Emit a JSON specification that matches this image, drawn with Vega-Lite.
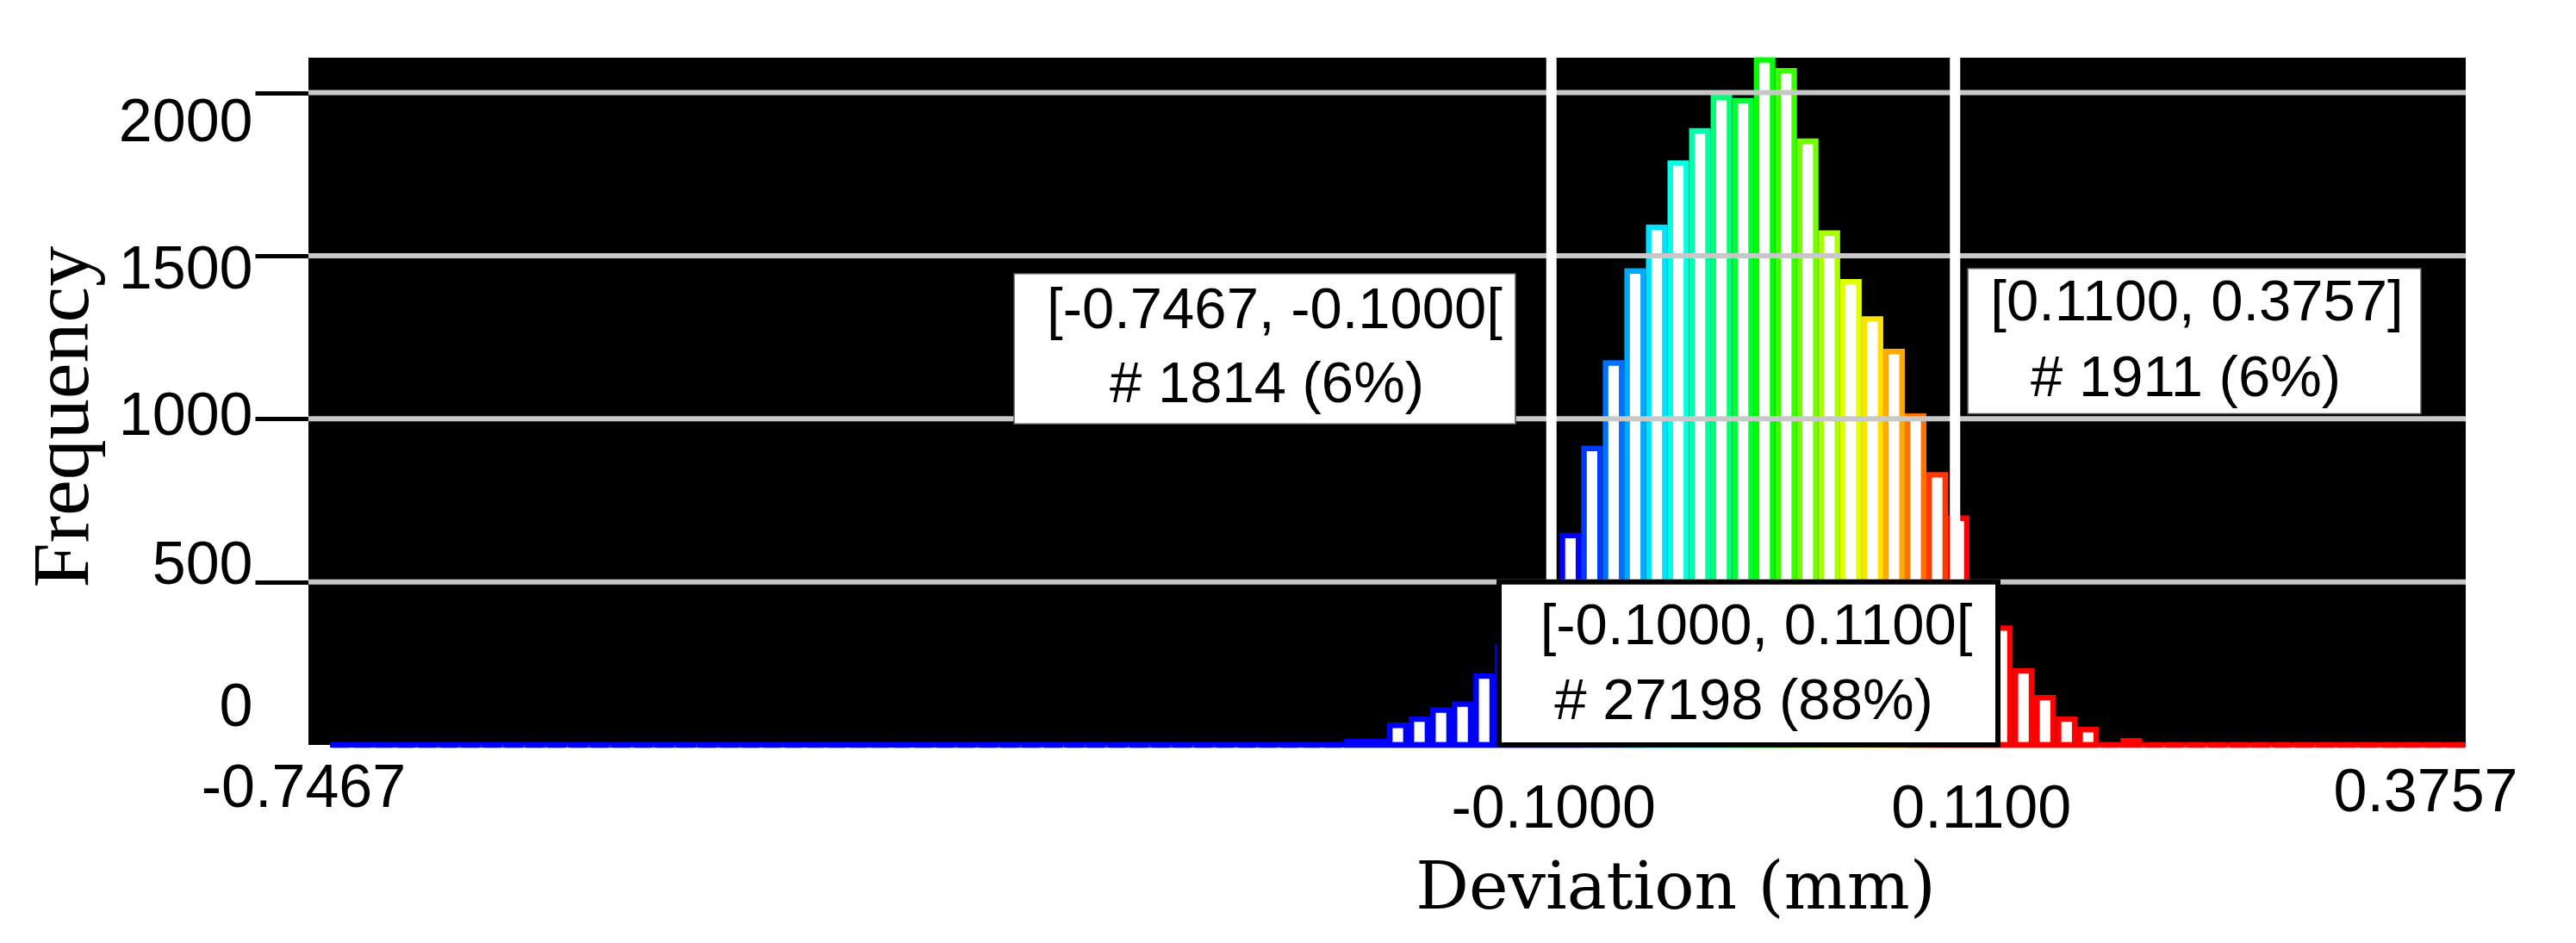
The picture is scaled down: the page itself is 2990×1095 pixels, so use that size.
{
  "$schema": "https://vega.github.io/schema/vega-lite/v6.json",
  "width": 2504,
  "height": 798,
  "autosize": {"type": "none"},
  "padding": {"left": 358, "top": 67, "right": 128, "bottom": 230},
  "background": "white",
  "config": {"view": {"fill": "black", "stroke": null}},
  "datasets": {
    "bins": [
      {"s": -0.735476, "e": -0.724252, "n": 0},
      {"s": -0.724252, "e": -0.713028, "n": 0},
      {"s": -0.713028, "e": -0.701804, "n": 0},
      {"s": -0.701804, "e": -0.69058, "n": 0},
      {"s": -0.69058, "e": -0.679356, "n": 0},
      {"s": -0.679356, "e": -0.668132, "n": 0},
      {"s": -0.668132, "e": -0.656908, "n": 0},
      {"s": -0.656908, "e": -0.645684, "n": 0},
      {"s": -0.645684, "e": -0.63446, "n": 0},
      {"s": -0.63446, "e": -0.623236, "n": 0},
      {"s": -0.623236, "e": -0.612012, "n": 0},
      {"s": -0.612012, "e": -0.600788, "n": 0},
      {"s": -0.600788, "e": -0.589564, "n": 0},
      {"s": -0.589564, "e": -0.57834, "n": 0},
      {"s": -0.57834, "e": -0.567116, "n": 0},
      {"s": -0.567116, "e": -0.555892, "n": 0},
      {"s": -0.555892, "e": -0.544668, "n": 0},
      {"s": -0.544668, "e": -0.533444, "n": 0},
      {"s": -0.533444, "e": -0.52222, "n": 0},
      {"s": -0.52222, "e": -0.510996, "n": 0},
      {"s": -0.510996, "e": -0.499772, "n": 0},
      {"s": -0.499772, "e": -0.488548, "n": 0},
      {"s": -0.488548, "e": -0.477324, "n": 0},
      {"s": -0.477324, "e": -0.4661, "n": 0},
      {"s": -0.4661, "e": -0.454876, "n": 0},
      {"s": -0.454876, "e": -0.443652, "n": 0},
      {"s": -0.443652, "e": -0.432428, "n": 0},
      {"s": -0.432428, "e": -0.421204, "n": 0},
      {"s": -0.421204, "e": -0.40998, "n": 0},
      {"s": -0.40998, "e": -0.398756, "n": 0},
      {"s": -0.398756, "e": -0.387532, "n": 0},
      {"s": -0.387532, "e": -0.376308, "n": 0},
      {"s": -0.376308, "e": -0.365084, "n": 0},
      {"s": -0.365084, "e": -0.35386, "n": 0},
      {"s": -0.35386, "e": -0.342636, "n": 0},
      {"s": -0.342636, "e": -0.331412, "n": 0},
      {"s": -0.331412, "e": -0.320188, "n": 0},
      {"s": -0.320188, "e": -0.308964, "n": 0},
      {"s": -0.308964, "e": -0.29774, "n": 0},
      {"s": -0.29774, "e": -0.286516, "n": 0},
      {"s": -0.286516, "e": -0.275292, "n": 0},
      {"s": -0.275292, "e": -0.264068, "n": 0},
      {"s": -0.264068, "e": -0.252844, "n": 0},
      {"s": -0.252844, "e": -0.24162, "n": 0},
      {"s": -0.24162, "e": -0.230396, "n": 0},
      {"s": -0.230396, "e": -0.219172, "n": 0},
      {"s": -0.219172, "e": -0.207948, "n": 0},
      {"s": -0.207948, "e": -0.196724, "n": 10},
      {"s": -0.196724, "e": -0.1855, "n": 10},
      {"s": -0.1855, "e": -0.174276, "n": 60},
      {"s": -0.174276, "e": -0.163052, "n": 79},
      {"s": -0.163052, "e": -0.151828, "n": 107},
      {"s": -0.151828, "e": -0.140604, "n": 125},
      {"s": -0.140604, "e": -0.12938, "n": 211},
      {"s": -0.12938, "e": -0.118156, "n": 300},
      {"s": -0.118156, "e": -0.106932, "n": 390},
      {"s": -0.106932, "e": -0.095708, "n": 450},
      {"s": -0.095708, "e": -0.084484, "n": 642},
      {"s": -0.084484, "e": -0.07326, "n": 909},
      {"s": -0.07326, "e": -0.062036, "n": 1171},
      {"s": -0.062036, "e": -0.050812, "n": 1453},
      {"s": -0.050812, "e": -0.039588, "n": 1587},
      {"s": -0.039588, "e": -0.028364, "n": 1784},
      {"s": -0.028364, "e": -0.01714, "n": 1883},
      {"s": -0.01714, "e": -0.005916, "n": 1985},
      {"s": -0.005916, "e": 0.005308, "n": 1975},
      {"s": 0.005308, "e": 0.016532, "n": 2100},
      {"s": 0.016532, "e": 0.027756, "n": 2067},
      {"s": 0.027756, "e": 0.03898, "n": 1851},
      {"s": 0.03898, "e": 0.050204, "n": 1569},
      {"s": 0.050204, "e": 0.061428, "n": 1420},
      {"s": 0.061428, "e": 0.072652, "n": 1306},
      {"s": 0.072652, "e": 0.083876, "n": 1206},
      {"s": 0.083876, "e": 0.0951, "n": 1008},
      {"s": 0.0951, "e": 0.106324, "n": 828},
      {"s": 0.106324, "e": 0.117548, "n": 695},
      {"s": 0.117548, "e": 0.128772, "n": 460},
      {"s": 0.128772, "e": 0.139996, "n": 358},
      {"s": 0.139996, "e": 0.15122, "n": 227},
      {"s": 0.15122, "e": 0.162444, "n": 145},
      {"s": 0.162444, "e": 0.173668, "n": 79},
      {"s": 0.173668, "e": 0.184892, "n": 47},
      {"s": 0.184892, "e": 0.196116, "n": 0},
      {"s": 0.196116, "e": 0.20734, "n": 13},
      {"s": 0.20734, "e": 0.218564, "n": 0},
      {"s": 0.218564, "e": 0.229788, "n": 0},
      {"s": 0.229788, "e": 0.241012, "n": 0},
      {"s": 0.241012, "e": 0.252236, "n": 0},
      {"s": 0.252236, "e": 0.26346, "n": 0},
      {"s": 0.26346, "e": 0.274684, "n": 0},
      {"s": 0.274684, "e": 0.285908, "n": 0},
      {"s": 0.285908, "e": 0.297132, "n": 0},
      {"s": 0.297132, "e": 0.308356, "n": 0},
      {"s": 0.308356, "e": 0.31958, "n": 0},
      {"s": 0.31958, "e": 0.330804, "n": 0},
      {"s": 0.330804, "e": 0.342028, "n": 0},
      {"s": 0.342028, "e": 0.353252, "n": 0},
      {"s": 0.353252, "e": 0.364476, "n": 0},
      {"s": 0.364476, "e": 0.3757, "n": 0}
    ],
    "grid": [{"y": 500}, {"y": 1000}, {"y": 1500}, {"y": 2000}],
    "limits": [{"x": -0.1}, {"x": 0.11}],
    "sideBoxes": [
      {"x1": -0.37958, "x2": -0.1187, "y1": 984, "y2": 1445},
      {"x1": 0.11663, "x2": 0.35241, "y1": 1015, "y2": 1461}
    ],
    "centerBox": [{"x1": -0.12722, "x2": 0.13231, "y1": 0, "y2": 500}],
    "notes": [
      {"x": -0.24399, "y": 1279, "t": "[-0.7467, -0.1000["},
      {"x": -0.24802, "y": 1052, "t": "# 1814 (6%)"},
      {"x": 0.23586, "y": 1303, "t": "[0.1100, 0.3757]"},
      {"x": 0.23004, "y": 1069, "t": "# 1911 (6%)"},
      {"x": 0.00658, "y": 309, "t": "[-0.1000, 0.1100["},
      {"x": 0.00008, "y": 80.5, "t": "# 27198 (88%)"}
    ]
  },
  "layer": [
    {
      "data": {"name": "bins"},
      "mark": {"type": "rect", "fill": "white", "strokeWidth": 6.4, "xOffset": 3.2, "x2Offset": -3.2},
      "encoding": {
        "x": {
          "field": "s", "type": "quantitative",
          "scale": {"domain": [-0.7467, 0.3757], "nice": false, "zero": false},
          "axis": {
            "values": [-0.7467, -0.1, 0.11, 0.3757],
            "labelExpr": "datum.value < 0 ? '-' + format(abs(datum.value), '.4f') : format(datum.value, '.4f')",
            "title": "Deviation (mm)",
            "ticks": false, "tickSize": 0, "domain": false, "grid": false,
            "labelFont": "Liberation Sans", "labelFontSize": 70, "labelColor": "black", "labelLimit": 0,
            "labelBaseline": "middle", "labelFlush": false, "labelOverlap": false, "labelBound": false,
            "labelPadding": {"condition": [{"test": "abs(datum.value) < 0.2", "value": 74}, {"test": "datum.value > 0.3", "value": 55}], "value": 50},
            "labelOffset": {"condition": [{"test": "datum.value < -0.5", "value": -6}, {"test": "datum.value > 0.3", "value": -47}, {"test": "datum.value > 0", "value": 30}], "value": 2},
            "titleFont": "DejaVu Serif", "titleFontSize": 77, "titleFontWeight": "normal", "titleColor": "black",
            "titleX": 1586.5, "titleY": 189.5, "titleBaseline": "alphabetic", "titleAlign": "center"
          }
        },
        "x2": {"field": "e"},
        "y": {
          "field": "n", "type": "quantitative",
          "scale": {"domain": [0, 2107], "nice": false, "zero": false},
          "axis": {
            "values": [0, 500, 1000, 1500, 2000],
            "format": "d",
            "title": "Frequency",
            "grid": false, "domain": false,
            "tickColor": "black", "tickSize": 62, "tickWidth": 5,
            "tickOpacity": {"condition": {"test": "datum.value === 0", "value": 0}, "value": 1},
            "labelFont": "Liberation Sans", "labelFontSize": 70, "labelColor": "black", "labelPadding": 3, "labelLimit": 0,
            "labelBaseline": "middle", "labelOverlap": false,
            "labelOffset": {"condition": [{"test": "datum.value === 0", "value": -44}, {"test": "datum.value === 500", "value": -19}, {"test": "datum.value === 1000", "value": -3}, {"test": "datum.value === 1500", "value": 17}], "value": 35},
            "titleFont": "Liberation Serif", "titleFontSize": 94, "titleFontWeight": "normal", "titleColor": "black",
            "titleX": -257, "titleY": 416.6, "titleAngle": 270, "titleBaseline": "alphabetic", "titleAlign": "center"
          }
        },
        "y2": {"datum": 0},
        "stroke": {
          "field": "s", "type": "quantitative",
          "scale": {"domain": [-0.0957, -0.0452, 0.0053, 0.0558, 0.1063], "range": ["#0000ff", "#00ffff", "#00ff00", "#ffff00", "#ff0000"], "clamp": true, "interpolate": "rgb"},
          "legend": null
        }
      }
    },
    {
      "data": {"name": "bins"},
      "mark": {"type": "rule", "strokeWidth": 6.4, "strokeCap": "butt"},
      "encoding": {
        "x": {"field": "s", "type": "quantitative"},
        "x2": {"field": "e"},
        "y": {"datum": 0},
        "stroke": {"field": "s", "type": "quantitative", "legend": null}
      }
    },
    {
      "data": {"name": "grid"},
      "mark": {"type": "rule", "color": "#c8c8c8", "strokeWidth": 6},
      "encoding": {"y": {"field": "y", "type": "quantitative"}}
    },
    {
      "data": {"name": "limits"},
      "mark": {"type": "rule", "color": "white", "strokeWidth": 12},
      "encoding": {"x": {"field": "x", "type": "quantitative"}}
    },
    {
      "data": {"name": "sideBoxes"},
      "mark": {"type": "rect", "fill": "white", "stroke": "#555555", "strokeWidth": 1.5},
      "encoding": {
        "x": {"field": "x1", "type": "quantitative"},
        "x2": {"field": "x2"},
        "y": {"field": "y1", "type": "quantitative"},
        "y2": {"field": "y2"}
      }
    },
    {
      "data": {"name": "centerBox"},
      "mark": {"type": "rect", "fill": "white", "stroke": "black", "strokeWidth": 6},
      "encoding": {
        "x": {"field": "x1", "type": "quantitative"},
        "x2": {"field": "x2"},
        "y": {"field": "y1", "type": "quantitative"},
        "y2": {"field": "y2"}
      }
    },
    {
      "data": {"name": "notes"},
      "mark": {"type": "text", "font": "Liberation Sans", "fontSize": 67, "color": "black", "align": "center", "baseline": "alphabetic"},
      "encoding": {
        "x": {"field": "x", "type": "quantitative"},
        "y": {"field": "y", "type": "quantitative"},
        "text": {"field": "t"}
      }
    }
  ]
}
